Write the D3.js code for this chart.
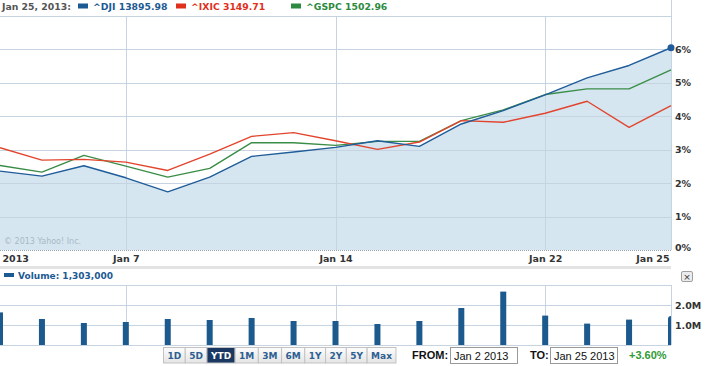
<!DOCTYPE html>
<html>
<head>
<meta charset="utf-8">
<script src="https://cdn.jsdelivr.net/npm/d3@7"></script>
<style>
body { margin: 0; background: #fff; }
svg { display: block; }
.bold { font-family: "DejaVu Sans", Verdana, sans-serif; font-weight: bold; font-size: 9px; }
.legend { font-family: "DejaVu Sans", Verdana, sans-serif; font-weight: bold; font-size: 9.3px; }
.axis text { font-family: "DejaVu Sans", Verdana, sans-serif; font-weight: bold; font-size: 9.5px; fill: #333; }
.axis path { display: none; }
.grid line { stroke: #c5d4e0; stroke-width: 1; shape-rendering: crispEdges; }
.form { font-family: "Liberation Sans", Arial, sans-serif; font-size: 11px; }
</style>
</head>
<body>
<svg id="chart" width="709" height="366"></svg>
<script>
// trading days, Jan 2013 (Jan 21 market closed)
var days = ["Jan 2", "Jan 3", "Jan 4", "Jan 7", "Jan 8", "Jan 9", "Jan 10", "Jan 11",
            "Jan 14", "Jan 15", "Jan 16", "Jan 17", "Jan 18", "Jan 22", "Jan 23", "Jan 24", "Jan 25"];

// % change since start of year
var dji  = [2.36, 2.21, 2.52, 2.16, 1.74, 2.18, 2.80, 2.93, 3.07, 3.27, 3.10, 3.77, 4.17, 4.64, 5.15, 5.52, 6.05];
var ixic = [3.06, 2.69, 2.71, 2.63, 2.38, 2.87, 3.40, 3.51, 3.27, 3.01, 3.23, 3.87, 3.82, 4.09, 4.45, 3.67, 4.32];
var gspc = [2.53, 2.33, 2.83, 2.51, 2.18, 2.44, 3.21, 3.21, 3.13, 3.25, 3.25, 3.87, 4.19, 4.65, 4.82, 4.82, 5.39];

// volume (shares)
var volume = [1630000, 1300000, 1100000, 1150000, 1300000, 1250000, 1350000, 1200000, 1200000,
              1050000, 1200000, 1850000, 2670000, 1470000, 1070000, 1270000, 1303000];

var pctTicks = [0, 1, 2, 3, 4, 5, 6];
var pctGrid = [1, 2, 3, 4, 5, 6, 7];
var volTicks = [1000000, 2000000];
var volGrid = [0, 1000000, 2000000, 3000000];
var dateTicks = ["Jan 2", "Jan 7", "Jan 14", "Jan 22", "Jan 25"];
var dateLabels = ["2013", "Jan 7", "Jan 14", "Jan 22", "Jan 25"];
var dateGrid = ["Jan 7", "Jan 14", "Jan 22"];

var legendItems = [
  {name: "^DJI 13895.98", color: "#1c5a93"},
  {name: "^IXIC 3149.71", color: "#e0301c"},
  {name: "^GSPC 1502.96", color: "#2b8a3e"}
];
var ranges = ["1D", "5D", "YTD", "1M", "3M", "6M", "1Y", "2Y", "5Y", "Max"];
var selectedRange = "YTD";

var lineColors = {dji: "#1f5c99", ixic: "#e2452d", gspc: "#3a8d47"};

var plotW = 671;
var svg = d3.select("#chart");

var x = d3.scalePoint().domain(days).range([0, plotW]);
var y = d3.scaleLinear().domain([0, 7]).range([250, 16]);
var yVol = d3.scaleLinear().domain([0, 3000000]).range([345, 285]);

svg.append("defs").append("clipPath").attr("id", "plotclip")
  .append("rect").attr("x", 0).attr("y", 0).attr("width", plotW).attr("height", 366);

// ---- main legend (fixed slots like the original)
var legend = svg.append("g").attr("class", "legend");
legend.append("text").attr("x", 2).attr("y", 10).attr("fill", "#555").text("Jan 25, 2013:");
var slots = [78, 176, 291];
legendItems.forEach(function(d, i) {
  legend.append("rect").attr("x", slots[i]).attr("y", 3.5).attr("width", 10).attr("height", 5).attr("fill", d.color);
  legend.append("text").attr("x", slots[i] + 15).attr("y", 10).attr("fill", d.color).text(d.name);
});

// ---- main plot
var main = svg.append("g");

var area = d3.area()
  .x(function(d, i) { return x(days[i]); })
  .y0(y(0))
  .y1(function(d) { return y(d); });

main.append("path").datum(dji).attr("d", area).attr("fill", "#d6e6f1");

main.append("g").attr("class", "grid").selectAll("line").data(pctGrid).enter().append("line")
  .attr("x1", 0).attr("x2", plotW)
  .attr("y1", function(d) { return Math.round(y(d)) + 0.5; })
  .attr("y2", function(d) { return Math.round(y(d)) + 0.5; });

main.append("g").attr("class", "grid").selectAll("line").data(dateGrid).enter().append("line")
  .attr("x1", function(d) { return Math.round(x(d)) + 0.5; })
  .attr("x2", function(d) { return Math.round(x(d)) + 0.5; })
  .attr("y1", y(7)).attr("y2", y(0));

main.append("line")
  .attr("x1", plotW + 0.5).attr("x2", plotW + 0.5).attr("y1", 0).attr("y2", y(0))
  .attr("stroke", "#c5d4e0");

main.append("line")
  .attr("x1", 0).attr("x2", plotW).attr("y1", y(0) + 0.5).attr("y2", y(0) + 0.5)
  .attr("stroke", "#9aa4ad").attr("stroke-dasharray", "1,1");

main.append("text").attr("x", 4).attr("y", 244)
  .style("font-family", "'DejaVu Sans', Verdana, sans-serif").style("font-size", "8px")
  .attr("fill", "#aab8c3").text("\u00a9 2013 Yahoo! Inc.");

var line = d3.line()
  .x(function(d, i) { return x(days[i]); })
  .y(function(d) { return y(d); });

[["gspc", gspc], ["ixic", ixic], ["dji", dji]].forEach(function(s) {
  main.append("path").datum(s[1]).attr("d", line)
    .attr("fill", "none").attr("stroke", lineColors[s[0]]).attr("stroke-width", 1.4)
    .attr("stroke-linejoin", "round");
});

main.append("circle")
  .attr("cx", x(days[days.length - 1])).attr("cy", y(dji[dji.length - 1])).attr("r", 3.5)
  .attr("fill", lineColors.dji);

// right % axis
var yAxis = main.append("g").attr("class", "axis")
  .attr("transform", "translate(" + (plotW + 1) + ",0)")
  .call(d3.axisRight(y).tickValues(pctTicks).tickSize(0).tickPadding(3)
    .tickFormat(function(d) { return d + "%"; }));
yAxis.selectAll(".tick").filter(function(d) { return d === 0; }).select("text").attr("dy", "0.0em");

// date axis
var xAxis = main.append("g").attr("class", "axis")
  .attr("transform", "translate(0," + y(0) + ")")
  .call(d3.axisBottom(x).tickValues(dateTicks).tickSize(0).tickPadding(5)
    .tickFormat(function(d, i) { return dateLabels[i]; }));
xAxis.selectAll(".tick text")
  .attr("text-anchor", function(d, i) { return i === 0 ? "start" : (i === dateTicks.length - 1 ? "end" : "middle"); })
  .attr("dx", function(d, i) { return i === 0 ? 2 : (i === dateTicks.length - 1 ? -2 : 0); });

// separator band
svg.append("rect").attr("x", 0).attr("y", 266).attr("width", plotW).attr("height", 3).attr("fill", "#e3e3e3");

// ---- volume panel
var vol = svg.append("g");
vol.append("rect").attr("x", 4).attr("y", 273).attr("width", 10).attr("height", 4).attr("fill", "#1c5a93");
vol.append("text").attr("class", "bold").attr("x", 18).attr("y", 278.5).attr("fill", "#1c5a93")
  .text("Volume: " + d3.format(",")(volume[volume.length - 1]));

// close button
var close = svg.append("g");
close.append("rect").attr("x", 681.5).attr("y", 271.5).attr("width", 11).attr("height", 10).attr("rx", 1.5)
  .attr("fill", "#ececec").attr("stroke", "#a0a0a0");
close.append("text").attr("x", 687).attr("y", 280).attr("text-anchor", "middle")
  .style("font-family", "'DejaVu Sans', sans-serif").style("font-size", "9px").attr("fill", "#333").text("\u00d7");

vol.append("g").attr("class", "grid").selectAll("line").data(volGrid).enter().append("line")
  .attr("x1", 0).attr("x2", plotW)
  .attr("y1", function(d) { return Math.round(yVol(d)) + 0.5; })
  .attr("y2", function(d) { return Math.round(yVol(d)) + 0.5; });
vol.append("g").attr("class", "grid").selectAll("line").data(dateGrid).enter().append("line")
  .attr("x1", function(d) { return Math.round(x(d)) + 0.5; })
  .attr("x2", function(d) { return Math.round(x(d)) + 0.5; })
  .attr("y1", yVol(3000000)).attr("y2", yVol(0));
vol.append("line").attr("x1", plotW + 0.5).attr("x2", plotW + 0.5)
  .attr("y1", yVol(3000000)).attr("y2", yVol(0)).attr("stroke", "#c5d4e0");

var bars = vol.append("g").attr("clip-path", "url(#plotclip)");
bars.selectAll("rect").data(volume).enter().append("rect")
  .attr("x", function(d, i) { return x(days[i]) - 3; })
  .attr("width", 6)
  .attr("y", function(d) { return yVol(d); })
  .attr("height", function(d) { return yVol(0) - yVol(d); })
  .attr("fill", "#1c5a8e");
bars.append("circle")
  .attr("cx", x(days[days.length - 1])).attr("cy", yVol(volume[volume.length - 1])).attr("r", 3)
  .attr("fill", "#1c5a8e");

vol.append("g").attr("class", "axis")
  .attr("transform", "translate(" + (plotW + 1) + ",0)")
  .call(d3.axisRight(yVol).tickValues(volTicks).tickSize(0).tickPadding(3)
    .tickFormat(function(d) { return d3.format(".1f")(d / 1e6) + "M"; }));

// ---- range buttons
var grad = svg.select("defs").append("linearGradient").attr("id", "btn").attr("x1", 0).attr("x2", 0).attr("y1", 0).attr("y2", 1);
grad.append("stop").attr("offset", "0").attr("stop-color", "#fdfdfd");
grad.append("stop").attr("offset", "1").attr("stop-color", "#e4e4e4");

var bx = 163.5;
ranges.forEach(function(r) {
  var g = svg.append("g");
  var sel = r === selectedRange;
  var rect = g.append("rect").attr("y", 347.5).attr("height", 15.5)
    .attr("fill", sel ? "#1b3862" : "url(#btn)").attr("stroke", "#c2c2c2");
  var t = g.append("text").attr("class", "bold").attr("y", 359)
    .attr("fill", sel ? "#fff" : "#2d5f92").text(r);
  var w = t.node().getComputedTextLength() + 8;
  rect.attr("x", bx).attr("width", w);
  t.attr("x", bx + w / 2).attr("text-anchor", "middle");
  bx += w;
});

// ---- date range form
var form = svg.append("g").attr("class", "form");
form.append("text").attr("x", 412).attr("y", 359).attr("font-weight", "bold").attr("fill", "#111").text("FROM:");
form.append("rect").attr("x", 450.5).attr("y", 347.5).attr("width", 67).attr("height", 16)
  .attr("fill", "#fff").attr("stroke", "#999");
form.append("text").attr("x", 454).attr("y", 359.5).attr("fill", "#111").text("Jan 2 2013");
form.append("text").attr("x", 530).attr("y", 359).attr("font-weight", "bold").attr("fill", "#111").text("TO:");
form.append("rect").attr("x", 550.5).attr("y", 347.5).attr("width", 67).attr("height", 16)
  .attr("fill", "#fff").attr("stroke", "#999");
form.append("text").attr("x", 554).attr("y", 359.5).attr("fill", "#111").text("Jan 25 2013");
form.append("text").attr("x", 629).attr("y", 359).attr("font-weight", "bold").attr("fill", "#2f9a35").text("+3.60%");
</script>
</body>
</html>
